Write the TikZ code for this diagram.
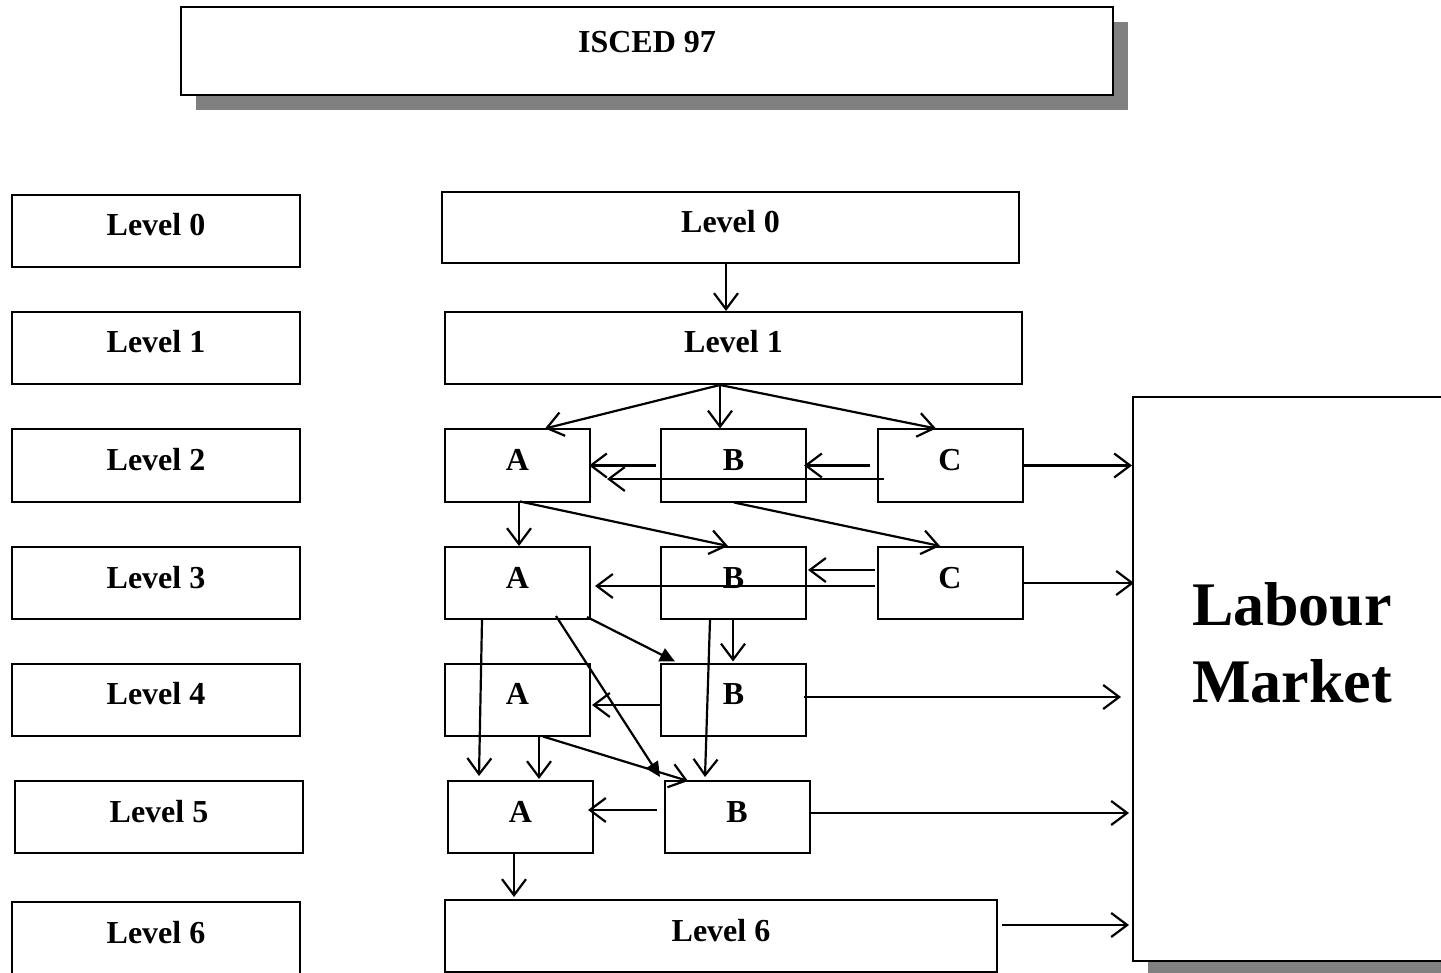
\documentclass[tikz,border=0pt]{standalone}
\usepackage{fontspec}
\setmainfont{Liberation Serif}
\usetikzlibrary{arrows.meta,calc,shadows}
\definecolor{shadowgray}{RGB}{128,128,128}
\begin{document}
\begin{tikzpicture}[x=1pt,y=-1pt,
  box/.style={draw, line width=2pt, fill=white, rectangle, inner sep=0pt,
    text height=22pt, text depth=12pt, font=\fontsize{32}{38}\selectfont\bfseries},
  shad/.style={drop shadow={shadow xshift=15pt, shadow yshift=-15pt, fill=shadowgray, opacity=1}},
  arr/.style={line width=2.2pt, -{Straight Barb[length=16pt,width=24pt]}},
  farr/.style={line width=2.2pt, -{Triangle[length=15pt,width=14pt]}},
  wide/.style={minimum width=288pt, minimum height=72pt},
  small/.style={minimum width=145pt, minimum height=72pt}]
\path[use as bounding box, clip] (0,0) rectangle (1441,973);

% title
\node[box, shad, minimum width=932pt, minimum height=88pt, text height=22pt, text depth=19pt] (isced) at (647,51) {ISCED 97};

% left column
\node[box, wide] (l0) at (156,231) {Level 0};
\node[box, wide] (l1) at (156,348) {Level 1};
\node[box, wide] (l2) at (156,465.5) {Level 2};
\node[box, wide] (l3) at (156,583) {Level 3};
\node[box, wide] (l4) at (156,699.5) {Level 4};
\node[box, wide] (l5) at (159,817) {Level 5};
\node[box, wide] (l6) at (156,938) {Level 6};

% middle column
\node[box, minimum width=577pt, minimum height=71pt] (m0) at (730.5,227.5) {Level 0};
\node[box, minimum width=577pt, minimum height=72pt] (m1) at (733.5,348) {Level 1};
\node[box, small] (a2) at (517.5,465.5) {A};
\node[box, small] (b2) at (733.5,465.5) {B};
\node[box, small] (c2) at (950,465.5) {C};
\node[box, small] (a3) at (517.5,583) {A};
\node[box, small] (b3) at (733.5,583) {B};
\node[box, small] (c3) at (950,583) {C};
\node[box, small] (a4) at (517.5,699.5) {A};
\node[box, small] (b4) at (733.5,699.5) {B};
\node[box, small] (a5) at (520.5,817) {A};
\node[box, small] (b5) at (737,817) {B};
\node[box, minimum width=552pt, minimum height=72pt] (m6) at (721,936) {Level 6};

% labour market
\node[box, shad, minimum width=318pt, minimum height=564pt] (lm) at (1292,679) {};
\node[font=\fontsize{62}{77}\selectfont\bfseries, align=center, inner sep=0pt] (lmt) at (1292,643) {Labour\\Market};

% connectors
\draw[arr] ($(m0.south)+(-4.5,0)$) -- ($(m1.north)+(-7.5,0)$);
\draw[arr] ($(m1.south)+(-13.5,0)$) -- ($(a2.north)+(27.5,0)$);
\draw[arr] ($(m1.south)+(-13.5,0)$) -- ($(b2.north)+(-13.5,0)$);
\draw[arr] ($(m1.south)+(-13.5,0)$) -- ($(c2.north)+(-14,0)$);

\draw[arr] ($(c2.west)+(-7,0)$) -- ($(b2.east)+(-3,0)$);
\draw[arr] ($(b2.west)+(-4,0)$) -- ($(a2.east)+(-2,0)$);
\draw[arr] ($(c2.west)+(7,13.5)$) -- ($(a2.east)+(16,13.5)$);

\draw[arr] ($(a2.south)+(1.5,0)$) -- ($(a3.north)+(1.5,0)$);
\draw[arr] ($(a2.south)+(2.5,-1)$) -- ($(b3.north)+(-5.5,0)$);
\draw[arr] ($(b2.south)+(0.5,0)$) -- ($(c3.north)+(-10,0)$);

\draw[arr] (c2.east) -- (c2.east -| lm.west);
\draw[arr] (c3.east) -- ($(c3.east -| lm.west)+(2,0)$);
\draw[arr] ($(b4.east)+(-3,-2.5)$) -- ($(lm.west |- b4.east)+(-11,-2.5)$);
\draw[arr] ($(b5.east)+(0,-4)$) -- ($(lm.west |- b5.east)+(-3,-4)$);
\draw[arr] ($(m6.east)+(4,-11)$) -- ($(lm.west |- m6.east)+(-3,-11)$);

\draw[arr] ($(c3.west)+(-2,-13)$) -- ($(b3.east)+(1,-13)$);
\draw[arr] ($(c3.west)+(-2,3)$) -- ($(a3.east)+(4,3)$);

\draw[arr] ($(a3.south)+(-35.5,0)$) -- ($(a5.north)+(-41.5,-4)$);
\draw[farr] ($(a3.south)+(38.5,-4)$) -- ($(b5.north)+(-77,-3)$);
\draw[farr] ($(a3.south east)+(-4,-3)$) -- ($(b4.north)+(-58.5,-1)$);
\draw[arr] ($(b3.south)+(-23.5,0)$) -- ($(b5.north)+(-32,-3)$);
\draw[arr] ($(b3.south)+(-0.5,0)$) -- ($(b4.north)+(-0.5,-1)$);

\draw[arr] ($(b4.west)+(1,5.5)$) -- ($(a4.east)+(1,5.5)$);
\draw[arr] ($(a4.south)+(21.5,0)$) -- ($(a5.north)+(18.5,-1)$);
\draw[arr] ($(a4.south)+(25.5,0)$) -- ($(b5.north)+(-49,1)$);

\draw[arr] ($(b5.west)+(-7,-7)$) -- ($(a5.east)+(-6,-7)$);
\draw[arr] ($(a5.south)+(-6.5,0)$) -- ($(m6.north)+(-207,-2)$);
\end{tikzpicture}
\end{document}
